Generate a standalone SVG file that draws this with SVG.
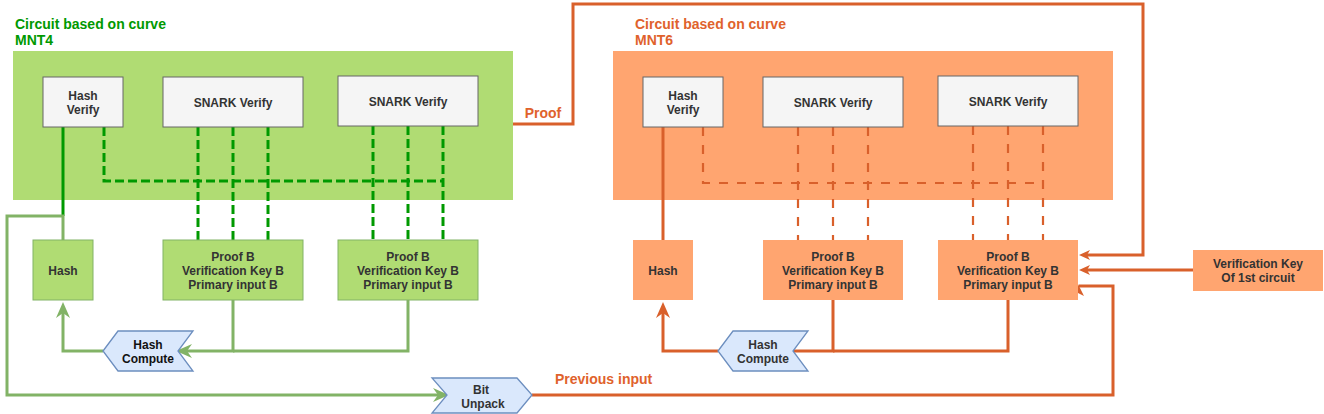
<svg xmlns="http://www.w3.org/2000/svg" width="1324" height="414" viewBox="0 0 1324 414">
<style>
text{font-family:"Liberation Sans",Arial,sans-serif;font-weight:bold;font-size:12px;text-anchor:middle;fill:#333}
.title{font-size:14px;text-anchor:start}
.gt{fill:#009900}
.ot{fill:#e0622c}
.gray{fill:#f5f5f5;stroke:#666;stroke-width:1}
.gfill{fill:#b0dc73;stroke:#82b366;stroke-width:1}
.ofill{fill:#ffa570;stroke:none}
.blue{fill:#dae8fc;stroke:#6c8ebf;stroke-width:1.3}
.bt{fill:#111}
.gl{fill:none;stroke:#82b366;stroke-width:3}
.gd{fill:none;stroke:#009900;stroke-width:3;stroke-dasharray:9 4}
.gs{fill:none;stroke:#009900;stroke-width:3}
.ol{fill:none;stroke:#d9602b;stroke-width:3}
.od{fill:none;stroke:#d9602b;stroke-width:2.2;stroke-dasharray:9 9}
</style>
<defs>
<marker id="ag" markerUnits="userSpaceOnUse" markerWidth="16" markerHeight="14" refX="5" refY="7" orient="auto"><path d="M0,0 L16,7 L0,14 L5,7 z" fill="#82b366"/></marker>
<marker id="ao" markerUnits="userSpaceOnUse" markerWidth="16" markerHeight="14" refX="5" refY="7" orient="auto"><path d="M0,0 L16,7 L0,14 L5,7 z" fill="#d9602b"/></marker>
<marker id="aos" markerUnits="userSpaceOnUse" markerWidth="11" markerHeight="10" refX="3" refY="5" orient="auto"><path d="M0,0 L11,5 L0,10 L3,5 z" fill="#d9602b"/></marker>
</defs>

<g id="mnt4">
<rect x="13" y="51" width="500" height="149" fill="#b0dc73"/>
<text class="title gt" x="15" y="29">Circuit based on curve</text>
<text class="title gt" x="15" y="45">MNT4</text>
</g>
<g id="mnt6">
<rect x="613" y="51" width="500" height="149" fill="#ffa570"/>
<text class="title ot" x="635" y="29">Circuit based on curve</text>
<text class="title ot" x="635" y="45">MNT6</text>
</g>

<g id="connectors">
<path class="gd" d="M104,127 V181 H443"/>
<path class="gd" d="M198,127 V240 M233,127 V240 M268,127 V240 M373,126 V240 M408,126 V240 M443,126 V240"/>
<path class="gs" d="M63,127 V216"/>
<path class="gl" d="M63,240 V216 H7 V395 H438" marker-end="url(#ag)"/>
<path class="gl" d="M233,300 V351 H187" marker-end="url(#ag)"/>
<path class="gl" d="M408,300 V351 H233"/>
<path class="gl" d="M103,351 H63 V313" marker-end="url(#ag)"/>
<path class="ol" d="M513,124 H573 V4 H1143 V255 H1087" marker-end="url(#aos)"/>
<path class="od" d="M703,127 V183 H1043"/>
<path class="od" d="M798,127 V240 M833,127 V240 M868,127 V240 M973,126 V240 M1008,126 V240 M1043,126 V240"/>
<path class="ol" d="M663,127 V240"/>
<path class="ol" d="M833,300 V351 H793"/>
<path class="ol" d="M1008,300 V351 H833"/>
<path class="ol" d="M718,351 H663 V313" marker-end="url(#ao)"/>
<path class="ol" d="M1193,270 H1087" marker-end="url(#aos)"/>
<path class="ol" d="M532,395 H1113 V286 H1079"/>
<path d="M1078,284 L1084,296 L1078,293 L1072,296 z" fill="#d9602b"/>
<text class="ot" x="543" y="118" style="font-size:14px">Proof</text>
<text class="ot title" x="555" y="384">Previous input</text>
</g>

<g id="g-hashverify"><rect class="gray" x="43" y="77" width="80" height="50"/><text x="83" y="100">Hash</text><text x="83" y="114">Verify</text></g>
<g id="g-snark1"><rect class="gray" x="163" y="77" width="140" height="50"/><text x="233" y="107">SNARK Verify</text></g>
<g id="g-snark2"><rect class="gray" x="338" y="76" width="140" height="50"/><text x="408" y="106">SNARK Verify</text></g>
<g id="g-hash"><rect class="gfill" x="33" y="240" width="60" height="60"/><text x="63" y="275">Hash</text></g>
<g id="g-proof1"><rect class="gfill" x="163" y="240" width="140" height="60"/><text x="233" y="261">Proof B</text><text x="233" y="275">Verification Key B</text><text x="233" y="289">Primary input B</text></g>
<g id="g-proof2"><rect class="gfill" x="338" y="240" width="140" height="60"/><text x="408" y="261">Proof B</text><text x="408" y="275">Verification Key B</text><text x="408" y="289">Primary input B</text></g>
<g id="g-hashcompute"><polygon class="blue" points="103,351 118,331 193,331 178,351 193,371 118,371"/><text class="bt" x="148" y="349">Hash</text><text class="bt" x="148" y="363">Compute</text></g>
<g id="bitunpack"><polygon class="blue" points="432,378 517,378 532,395 517,413 432,413 447,395"/><text x="481" y="394">Bit</text><text x="483" y="408">Unpack</text></g>

<g id="o-hashverify"><rect class="gray" x="643" y="77" width="80" height="50"/><text x="683" y="100">Hash</text><text x="683" y="114">Verify</text></g>
<g id="o-snark1"><rect class="gray" x="763" y="77" width="140" height="50"/><text x="833" y="107">SNARK Verify</text></g>
<g id="o-snark2"><rect class="gray" x="938" y="76" width="140" height="50"/><text x="1008" y="106">SNARK Verify</text></g>
<g id="o-hash"><rect class="ofill" x="633" y="240" width="60" height="60"/><text x="663" y="275">Hash</text></g>
<g id="o-proof1"><rect class="ofill" x="763" y="240" width="140" height="60"/><text x="833" y="261">Proof B</text><text x="833" y="275">Verification Key B</text><text x="833" y="289">Primary input B</text></g>
<g id="o-proof2"><rect class="ofill" x="938" y="240" width="140" height="60"/><text x="1008" y="261">Proof B</text><text x="1008" y="275">Verification Key B</text><text x="1008" y="289">Primary input B</text></g>
<g id="o-hashcompute"><polygon class="blue" points="718,351 733,331 808,331 793,351 808,371 733,371"/><text x="763" y="349">Hash</text><text x="763" y="363">Compute</text></g>
<g id="vk"><rect class="ofill" x="1193" y="250" width="130" height="41"/><text x="1258" y="268">Verification Key</text><text x="1258" y="282">Of 1st circuit</text></g>
</svg>
